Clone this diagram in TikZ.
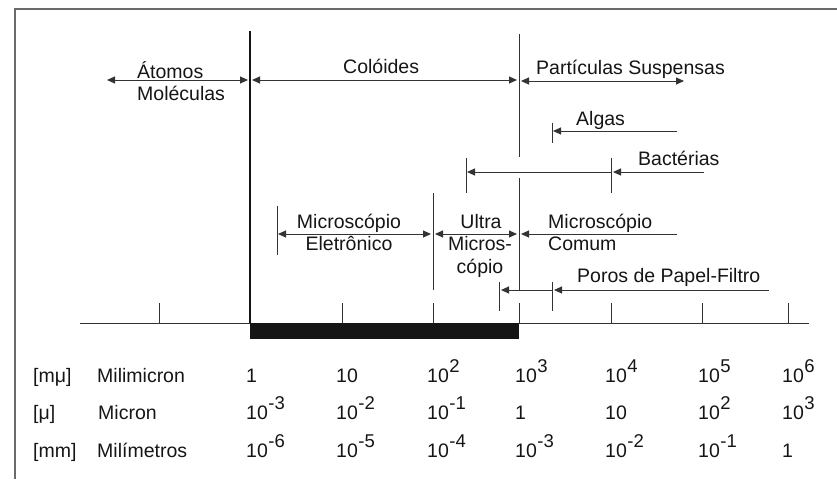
\documentclass[tikz,border=0pt]{standalone}
\usepackage{fontspec}
\setmainfont{Liberation Sans}
\usetikzlibrary{arrows.meta}
\definecolor{ink}{HTML}{151515}
\definecolor{lc}{HTML}{333333}
\definecolor{fr}{HTML}{6A6A6A}
\newcommand\myexp[1]{\kern0.5pt\raisebox{10pt}{\fontsize{18.5}{18.5}\selectfont #1}}
\begin{document}
\begin{tikzpicture}[x=1pt,y=-1pt,
  txt/.style={inner sep=0pt, anchor=base west, text=ink, font=\fontsize{19.5}{22}\selectfont},
  ctxt/.style={txt, anchor=base},
  ln/.style={draw=lc, line width=1pt},
  arw/.style={ln, -{Triangle[length=8pt,width=7pt]}},
  darw/.style={ln, {Triangle[length=8pt,width=7pt]}-{Triangle[length=8pt,width=7pt]}},
  tick/.style={ln}]
\useasboundingbox (0,0) rectangle (837,479);
% frame
\draw[fr, line width=1.6pt] (15,479) -- (15,9) -- (837,9);

% axis and bar
\coordinate (axL) at (80,323);
\coordinate (axR) at (809,323);
\draw[ln] (axL) -- (axR);
\fill[ink] (250,323) rectangle (519,339);
\foreach \x/\n in {159/a,342/b,433/c,519/d,611/e,702/f,788/g}{
  \coordinate (t\n) at (\x,323);
  \draw[tick] (t\n) -- ++(0,-20);
}
% main boundary lines
\coordinate (m1top) at (250,31);
\coordinate (m1bot) at (250,323);
\draw[draw=ink, line width=2pt] (m1top) -- (m1bot);
\coordinate (m2a) at (519,34);
\coordinate (m2b) at (519,157);
\coordinate (m2c) at (519,178);
\coordinate (m2d) at (519,290);
\draw[ln] (m2a) -- (m2b);
\draw[ln] (m2c) -- (m2d);
\coordinate (m3a) at (433,193);
\coordinate (m3b) at (433,290);
\draw[ln] (m3a) -- (m3b);

% Atomos / Moleculas
\node[txt] (atomos) at (137,78) {Átomos};
\node[txt] (molec) at (137,100) {Moléculas};
\coordinate (atL) at (107,80);
\coordinate (atR) at (248,80);
\draw[darw] (atL) -- (atR);

% Coloides
\node[txt] (colo) at (343,73) {Colóides};
\coordinate (coL) at (252,80);
\coordinate (coR) at (517,80);
\draw[darw] (coL) -- (coR);

% Particulas Suspensas
\node[txt] (part) at (536,74) {Partículas Suspensas};
\coordinate (paL) at (521,81);
\coordinate (paR) at (684,81);
\draw[darw] (paL) -- (paR);

% Algas
\node[txt] (algas) at (576,125) {Algas};
\coordinate (alT) at (552,123);
\coordinate (alB) at (552,143);
\draw[tick] (alT) -- (alB);
\coordinate (alS) at (677,131);
\coordinate (alE) at (553,131);
\draw[arw] (alS) -- (alE);

% Bacterias
\node[txt] (bact) at (638,165) {Bactérias};
\coordinate (b1T) at (466,158);
\coordinate (b1B) at (466,193);
\coordinate (b2T) at (611,158);
\coordinate (b2B) at (611,193);
\draw[tick] (b1T) -- (b1B);
\draw[tick] (b2T) -- (b2B);
\coordinate (baS1) at (611,172);
\coordinate (baE1) at (467,172);
\coordinate (baS2) at (704,172);
\coordinate (baE2) at (613,172);
\draw[arw] (baS1) -- (baE1);
\draw[arw] (baS2) -- (baE2);

% Microscopio Eletronico
\node[ctxt] (me1) at (349,228) {Microscópio};
\node[ctxt] (me2) at (349,250) {Eletrônico};
\coordinate (meT) at (277,206);
\coordinate (meB) at (277,255);
\draw[tick] (meT) -- (meB);
\coordinate (meL) at (278,234);
\coordinate (meR) at (431,234);
\draw[darw] (meL) -- (meR);

% Ultra Microscopio
\node[ctxt] (um1) at (481,228) {Ultra};
\node[ctxt] (um2) at (480,250) {Micros-};
\node[ctxt] (um3) at (480,273) {cópio};
\coordinate (umL) at (435,234);
\coordinate (umR) at (517,234);
\draw[darw] (umL) -- (umR);

% Microscopio Comum
\node[txt] (mc1) at (548,228) {Microscópio};
\node[txt] (mc2) at (548,250) {Comum};
\coordinate (mcS) at (677,234);
\coordinate (mcE) at (521,234);
\draw[arw] (mcS) -- (mcE);

% Poros de Papel-Filtro
\node[txt] (poros) at (577,282) {Poros de Papel-Filtro};
\coordinate (p1T) at (499,282);
\coordinate (p1B) at (499,311);
\coordinate (p2T) at (552,282);
\coordinate (p2B) at (552,311);
\draw[tick] (p1T) -- (p1B);
\draw[tick] (p2T) -- (p2B);
\coordinate (poS1) at (552,290);
\coordinate (poE1) at (501,290);
\coordinate (poS2) at (769,290);
\coordinate (poE2) at (554,290);
\draw[arw] (poS1) -- (poE1);
\draw[arw] (poS2) -- (poE2);

% table
\node[txt] (u1) at (33,382) {[mμ]};
\node[txt] (u2) at (33,419) {[μ]};
\node[txt] (u3) at (33,457) {[mm]};
\node[txt] (n1) at (97,382) {Milimicron};
\node[txt] (n2) at (98,419) {Micron};
\node[txt] (n3) at (97,457) {Milímetros};

\node[txt] (r1c1) at (246,382) {1};
\node[txt] (r1c2) at (336,382) {10};
\node[txt] (r1c3) at (427,382) {10\myexp{2}};
\node[txt] (r1c4) at (515,382) {10\myexp{3}};
\node[txt] (r1c5) at (605,382) {10\myexp{4}};
\node[txt] (r1c6) at (698,382) {10\myexp{5}};
\node[txt] (r1c7) at (782,382) {10\myexp{6}};

\node[txt] (r2c1) at (246,419) {10\myexp{-3}};
\node[txt] (r2c2) at (336,419) {10\myexp{-2}};
\node[txt] (r2c3) at (427,419) {10\myexp{-1}};
\node[txt] (r2c4) at (515,419) {1};
\node[txt] (r2c5) at (605,419) {10};
\node[txt] (r2c6) at (698,419) {10\myexp{2}};
\node[txt] (r2c7) at (782,419) {10\myexp{3}};

\node[txt] (r3c1) at (246,457) {10\myexp{-6}};
\node[txt] (r3c2) at (336,457) {10\myexp{-5}};
\node[txt] (r3c3) at (427,457) {10\myexp{-4}};
\node[txt] (r3c4) at (515,457) {10\myexp{-3}};
\node[txt] (r3c5) at (605,457) {10\myexp{-2}};
\node[txt] (r3c6) at (698,457) {10\myexp{-1}};
\node[txt] (r3c7) at (782,457) {1};
\end{tikzpicture}
\end{document}
